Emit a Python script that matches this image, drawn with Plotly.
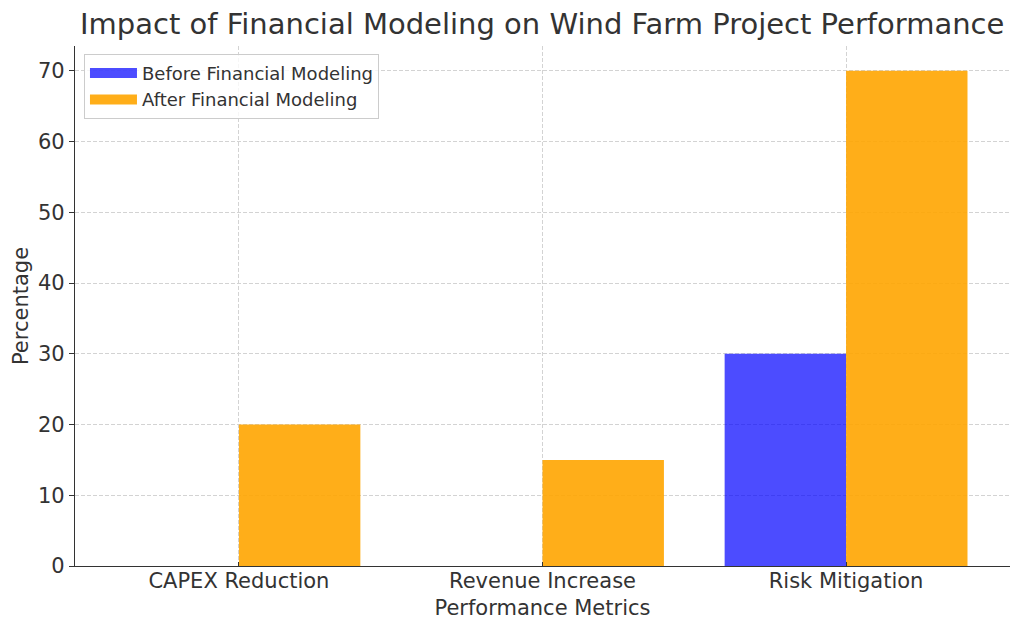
import plotly.graph_objects as go

categories = ["CAPEX Reduction", "Revenue Increase", "Risk Mitigation"]
before_values = [0, 0, 30]
after_values = [20, 15, 70]
y_ticks = [0, 10, 20, 30, 40, 50, 60, 70]

before_color = "rgba(0,0,255,0.7)"
after_color = "rgba(255,165,0,0.9)"

fig = go.Figure()
fig.add_trace(go.Bar(
    x=categories, y=before_values, name="Before Financial Modeling",
    marker=dict(color=before_color, line=dict(width=0)), showlegend=False,
))
fig.add_trace(go.Bar(
    x=categories, y=after_values, name="After Financial Modeling",
    marker=dict(color=after_color, line=dict(width=0)), showlegend=False,
))
# legend entries with wide rectangular patches (matplotlib style)
fig.add_trace(go.Scatter(x=[None], y=[None], mode="lines", name="Before Financial Modeling",
                         line=dict(color=before_color, width=14)))
fig.add_trace(go.Scatter(x=[None], y=[None], mode="lines", name="After Financial Modeling",
                         line=dict(color=after_color, width=14)))

font_family = "DejaVu Sans"
# page body has an 8px margin, so the figure is sized to fit the 1024x635 window
fig.update_layout(
    width=1008, height=619,
    margin=dict(l=67, r=6, t=38, b=61),
    paper_bgcolor="white", plot_bgcolor="white",
    barmode="group", bargap=0.2, bargroupgap=0,
    font=dict(family=font_family, color="#333333", size=20),
    title=dict(text="Impact of Financial Modeling on Wind Farm Project Performance",
               x=0.53, xanchor="center", y=0.974, yanchor="middle",
               font=dict(size=29, color="#333333")),
    showlegend=True,
    legend=dict(x=0.0096, y=0.985, xanchor="left", yanchor="top",
                bgcolor="rgba(255,255,255,0.8)", bordercolor="#cccccc", borderwidth=1,
                font=dict(size=18, color="#333333"), tracegroupgap=0, itemwidth=47),
)
fig.update_xaxes(
    range=[-0.54, 2.54], automargin=False,
    showline=True, linecolor="#333333", linewidth=1.2,
    ticks="inside", ticklen=4, tickcolor="#333333",
    showgrid=True, gridcolor="#d3d3d3", griddash="4px,2px", gridwidth=1,
    tickfont=dict(size=21, color="#333333"), ticklabelstandoff=-4,
    title=dict(text="Performance Metrics", font=dict(size=21), standoff=8),
    layer="above traces",
)
fig.update_yaxes(
    range=[0, 73.5], tickvals=y_ticks, automargin=False,
    showline=True, linecolor="#333333", linewidth=1.2,
    ticks="outside", ticklen=5, tickcolor="#333333",
    showgrid=True, gridcolor="#d3d3d3", griddash="4px,2px", gridwidth=1,
    zeroline=False,
    tickfont=dict(size=21, color="#333333"),
    title=dict(text="Percentage", font=dict(size=21), standoff=3),
    layer="above traces",
)

fig.write_html("out.html")
